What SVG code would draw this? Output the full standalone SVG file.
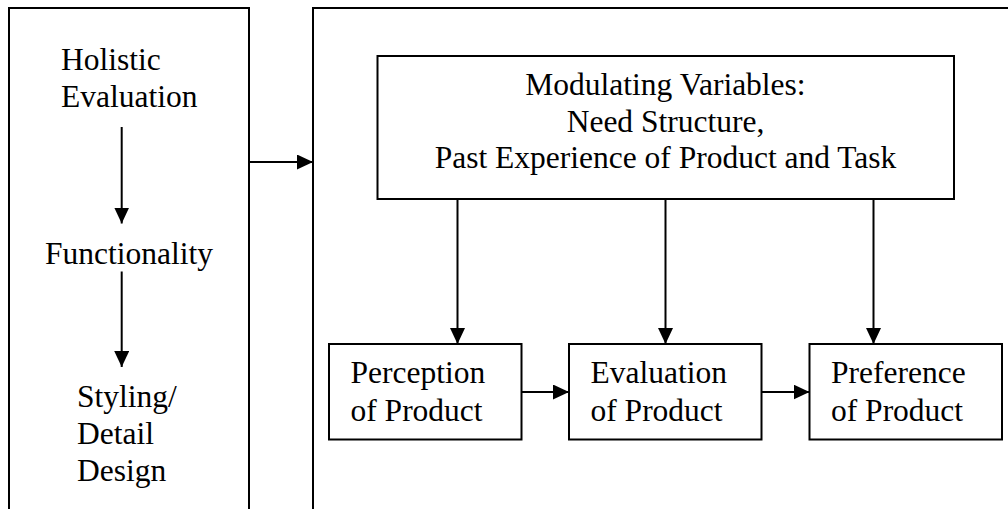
<svg xmlns="http://www.w3.org/2000/svg" width="1008" height="509" viewBox="0 0 1008 509">
<defs>
<style>
.box{fill:none;stroke:#000;stroke-width:2}
.ln{fill:none;stroke:#000;stroke-width:2}
text{font-size:31.5px;fill:#000}
.c{text-anchor:middle}
</style>
<marker id="ah" viewBox="0 0 16 15" refX="16" refY="7.5" markerWidth="16" markerHeight="15" markerUnits="userSpaceOnUse" orient="auto">
<path d="M0,0 L16,7.5 L0,15 Z" fill="#000"/>
</marker>
</defs>
<rect width="1008" height="509" fill="#fff"/>
<g id="left-panel" font-family="Times New Roman, Liberation Serif, serif">
<path class="box" d="M9,515 V8 H249 V515"/>
<text x="61" y="70">Holistic</text>
<text x="61" y="107">Evaluation</text>
<text x="45" y="264">Functionality</text>
<text x="77" y="407">Styling/</text>
<text x="77" y="444">Detail</text>
<text x="77" y="481">Design</text>
</g>
<g id="right-panel">
<path class="box" d="M313,515 V8 H1015"/>
</g>
<g id="modulating" font-family="Times New Roman, Liberation Serif, serif">
<rect class="box" x="377.5" y="56" width="576.5" height="143"/>
<text class="c" x="665.5" y="95">Modulating Variables:</text>
<text class="c" x="665.5" y="131.5">Need Structure,</text>
<text class="c" x="665.5" y="168">Past Experience of Product and Task</text>
</g>
<g id="perception" font-family="Times New Roman, Liberation Serif, serif">
<rect class="box" x="329" y="344" width="192.5" height="95.5"/>
<text x="350.5" y="383">Perception</text>
<text x="350.5" y="421">of Product</text>
</g>
<g id="evaluation" font-family="Times New Roman, Liberation Serif, serif">
<rect class="box" x="569" y="344" width="192.5" height="95.5"/>
<text x="590.5" y="383">Evaluation</text>
<text x="590.5" y="421">of Product</text>
</g>
<g id="preference" font-family="Times New Roman, Liberation Serif, serif">
<rect class="box" x="809.5" y="344" width="192.5" height="95.5"/>
<text x="831" y="383">Preference</text>
<text x="831" y="421">of Product</text>
</g>
<g id="connectors">
<line class="ln" x1="121.7" y1="127" x2="121.7" y2="223.5" marker-end="url(#ah)"/>
<line class="ln" x1="121.7" y1="271.5" x2="121.7" y2="367" marker-end="url(#ah)"/>
<line class="ln" x1="249" y1="162" x2="313" y2="162" marker-end="url(#ah)"/>
<line class="ln" x1="457.5" y1="199" x2="457.5" y2="344" marker-end="url(#ah)"/>
<line class="ln" x1="665.5" y1="199" x2="665.5" y2="344" marker-end="url(#ah)"/>
<line class="ln" x1="873.5" y1="199" x2="873.5" y2="344" marker-end="url(#ah)"/>
<line class="ln" x1="521.5" y1="392" x2="569" y2="392" marker-end="url(#ah)"/>
<line class="ln" x1="761.5" y1="392" x2="809.5" y2="392" marker-end="url(#ah)"/>
</g>
</svg>
